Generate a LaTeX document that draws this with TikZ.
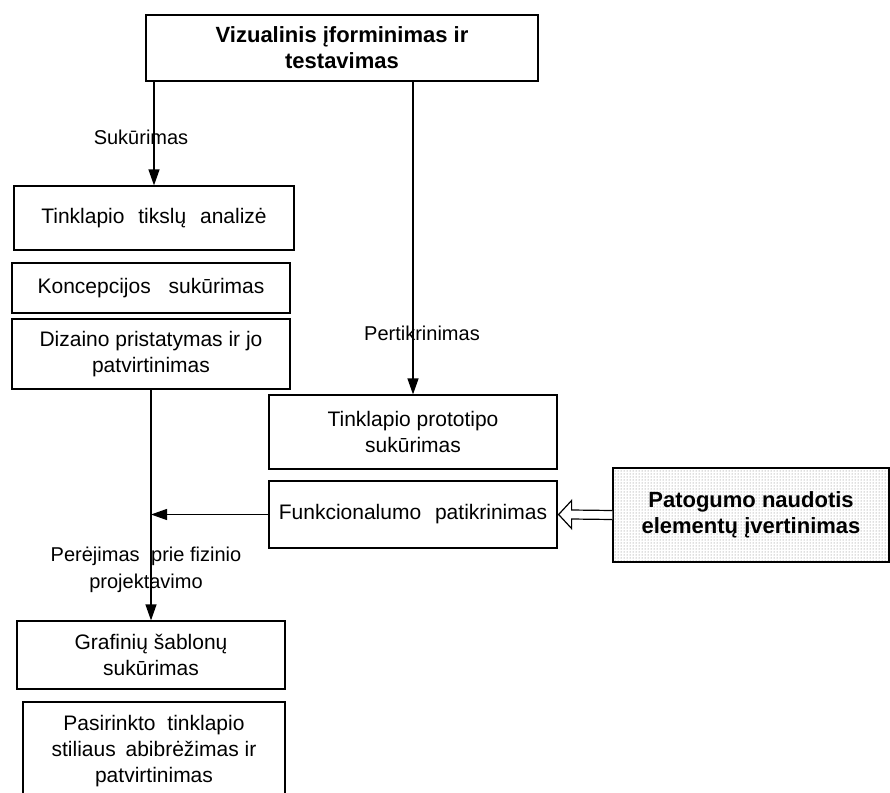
\documentclass[tikz,border=0pt]{standalone}
\usepackage{fontspec}
\setmainfont{Liberation Sans}
\usetikzlibrary{arrows.meta,calc,patterns}
\begin{document}
\begin{tikzpicture}[x=1pt,y=-1pt,
  box/.style={draw=black,line width=1.2pt,align=center,inner sep=2pt,
    font=\fontsize{21}{26}\selectfont},
  boldbox/.style={box,font=\bfseries\fontsize{22}{26}\selectfont},
  lbl/.style={align=center,font=\fontsize{20}{27}\selectfont,inner sep=0pt},
  conn/.style={line width=1.2pt,-{Triangle[length=16pt,width=11pt]}}]
\useasboundingbox (0,0) rectangle (890,792);
% boxes
\node[boldbox,minimum width=392pt,minimum height=66pt] (top) at (342,48)
  {Vizualinis įforminimas ir\\testavimas};
\node[box,minimum width=280pt,minimum height=64pt] (tik) at (154,218)
  {Tinklapio\hspace{8pt} tikslų\hspace{8pt} analizė};
\node[box,minimum width=278pt,minimum height=50pt] (kon) at (151,288)
  {Koncepcijos\hspace{12pt} sukūrimas};
\node[box,minimum width=278pt,minimum height=70pt] (diz) at (151,354)
  {Dizaino pristatymas ir jo\\patvirtinimas};
\node[box,minimum width=288pt,minimum height=74pt] (proto) at (413,432)
  {Tinklapio prototipo\\sukūrimas};
\node[box,minimum width=288pt,minimum height=67pt] (fun) at (413,514.5)
  {Funkcionalumo\hspace{8pt} patikrinimas};
\node[boldbox,minimum width=276pt,minimum height=94pt,pattern=dots,pattern color=black!55] (pat) at (751,515)
  {Patogumo naudotis\\elementų įvertinimas};
\node[box,minimum width=268pt,minimum height=68pt] (graf) at (151,655)
  {Grafinių šablonų\\sukūrimas};
\node[box,minimum width=262pt,minimum height=98pt] (pas) at (154,751)
  {Pasirinkto\hspace{6pt} tinklapio\\stiliaus\hspace{4pt} abibrėžimas ir\\patvirtinimas};
% connectors
\draw[conn] (top.south -| tik.north) -- (tik.north);
\draw[conn] (top.south -| proto.north) -- (proto.north);
\draw[conn] (diz.south) -- (graf.north);
\coordinate (join) at (fun.west -| diz.south);
\draw[conn] (fun.west) -- (join);
% hollow arrow
\draw[line width=1.2pt,fill=white,line join=miter]
  ($(pat.west)+(0,-4.5)$) -- ($(fun.east)+(14,-4.5)$) -- ($(fun.east)+(14,-14)$)
  -- ($(fun.east)+(1,0)$) -- ($(fun.east)+(14,14)$) -- ($(fun.east)+(14,4.5)$)
  -- ($(pat.west)+(0,4.5)$);
% labels
\node[lbl] (l1) at (141,137) {Sukūrimas};
\node[lbl] (l2) at (422,333) {Pertikrinimas};
\node[lbl] (l3) at (146,570) {Perėjimas\hspace{6pt} prie fizinio\\projektavimo};
\end{tikzpicture}
\end{document}
